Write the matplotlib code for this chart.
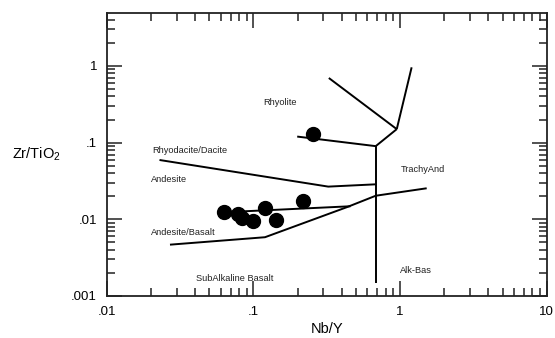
import matplotlib
matplotlib.use("Agg")
import matplotlib.pyplot as plt
from matplotlib.ticker import FixedLocator, NullFormatter

plt.rcParams['font.family'] = ['Liberation Sans', 'DejaVu Sans']
plt.rcParams['mathtext.default'] = 'regular'

# sample points (Nb/Y, Zr/TiO2)
nb_y = [0.063, 0.079, 0.0836, 0.0998, 0.12, 0.1435, 0.219, 0.256]
zr_ti = [0.0126, 0.0119, 0.0104, 0.0095, 0.0139, 0.0098, 0.0173, 0.130]

# field boundaries (Winchester & Floyd)
boundaries = [
    ([0.327, 0.95], [0.697, 0.150]),                     # rhyolite upper
    ([0.95, 1.2], [0.150, 0.96]),                        # rhyolite / comendite
    ([0.199, 0.683, 0.95], [0.120, 0.090, 0.150]),       # rhyolite lower
    ([0.683, 0.683], [0.090, 0.00149]),                  # subalkaline / alkaline
    ([0.0229, 0.324, 0.683], [0.0594, 0.0267, 0.0286]),  # rhyodacite / andesite
    ([0.683, 1.52], [0.0203, 0.0254]),                   # trachyandesite
    ([0.027, 0.12, 0.432, 0.683], [0.00467, 0.00584, 0.01435, 0.0203]),
    ([0.085, 0.46], [0.0127, 0.0148]),                   # andesite / andesite-basalt
]

field_names = ["Rhyolite", "Rhyodacite/Dacite", "Andesite", "Andesite/Basalt",
               "SubAlkaline Basalt", "TrachyAnd", "Alk-Bas"]
field_x = [0.116, 0.0203, 0.0201, 0.0201, 0.0404, 1.01, 1.0]
field_y = [0.329, 0.080, 0.0326, 0.0067, 0.00167, 0.044, 0.00218]

xticks = [0.01, 0.1, 1, 10]
xtick_labels = [".01", ".1", "1", "10"]
yticks = [0.001, 0.01, 0.1, 1]
ytick_labels = [".001", ".01", ".1", "1"]

fig = plt.figure(figsize=(5.55, 3.38), dpi=100)
ax = fig.add_axes([0.1923, 0.1243, 0.7927, 0.8381])

for bx, by in boundaries:
    ax.plot(bx, by, color="black", lw=1.4, solid_capstyle="butt")

ax.plot(nb_y, zr_ti, "o", color="black", ms=10, zorder=3)

for name, tx, ty in zip(field_names, field_x, field_y):
    ax.text(tx, ty, name, fontsize=6.7, color="#222222", ha="left", va="center")

ax.set_xscale("log")
ax.set_yscale("log")
ax.set_xlim(0.01, 10)
ax.set_ylim(0.001, 4.95)

ax.xaxis.set_major_locator(FixedLocator(xticks))
ax.set_xticklabels(xtick_labels)
ax.yaxis.set_major_locator(FixedLocator(yticks))
ax.set_yticklabels(ytick_labels)
xminor = [m * d for d in [0.01, 0.1, 1] for m in range(2, 10)]
yminor = [m * d for d in [0.001, 0.01, 0.1, 1] for m in range(2, 10)]
ax.xaxis.set_minor_locator(FixedLocator(xminor))
ax.yaxis.set_minor_locator(FixedLocator(yminor))
ax.xaxis.set_minor_formatter(NullFormatter())
ax.yaxis.set_minor_formatter(NullFormatter())

ax.tick_params(which="both", direction="in", top=True, right=True, width=1.1,
               labelsize=9.5, color="#222222")
ax.tick_params(which="major", length=11)
ax.tick_params(which="minor", length=6)
ax.tick_params(axis="x", pad=7)
ax.tick_params(axis="y", pad=7)
for s in ax.spines.values():
    s.set_linewidth(1.3)
    s.set_color("#222222")

ax.set_xlabel("Nb/Y", fontsize=10.5, labelpad=3)
ax.set_ylabel("Zr/TiO$_2$", fontsize=10.5, rotation=0, ha="center", va="center")
ax.yaxis.set_label_coords(-0.161, 0.5)

fig.savefig("out.png", dpi=100)
